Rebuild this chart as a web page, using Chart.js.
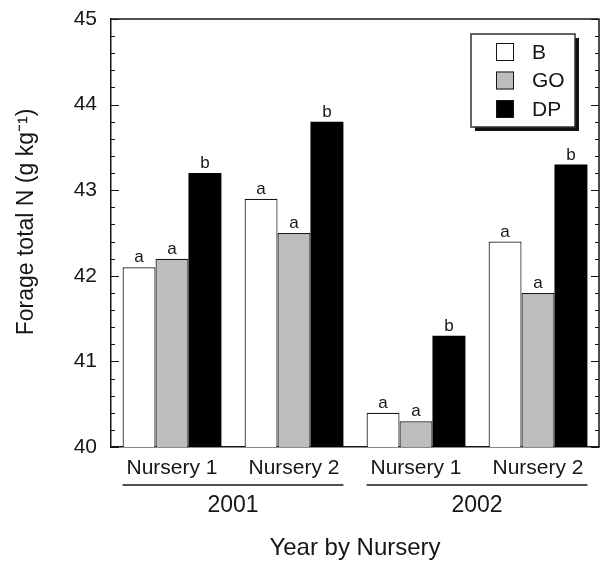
<!DOCTYPE html>
<html>
<head>
<meta charset="utf-8">
<script src="https://cdn.jsdelivr.net/npm/chart.js@4"></script>
<style>
    html, body { margin: 0; padding: 0; background: #fff; }
    #wrap { width: 600px; height: 563px; }
</style>
</head>
<body>
<div id="wrap"><canvas id="chart" width="600" height="563"></canvas></div>
<script>
const nurseries = ['Nursery 1', 'Nursery 2', 'Nursery 1', 'Nursery 2'];
const years = ['2001', '2002'];
const seriesNames = ['B', 'GO', 'DP'];

const bValues = [42.1, 42.9, 40.4, 42.4];
const goValues = [42.2, 42.5, 40.3, 41.8];
const dpValues = [43.2, 43.8, 41.3, 43.3];

const bLetters = ['a', 'a', 'a', 'a'];
const goLetters = ['a', 'a', 'a', 'a'];
const dpLetters = ['b', 'b', 'b', 'b'];

const yTicks = [40, 41, 42, 43, 44, 45];
const yTitle = 'Forage total N (g kg\u207B\u00B9)';

const FONT = "'Liberation Sans', Arial, Helvetica, sans-serif";
const INK = '#161616';
const GREY = '#bdbdbd';

const letters = [bLetters, goLetters, dpLetters];
const fills = ['#ffffff', GREY, '#000000'];

// extra drawing: frame, inward ticks, letters, year brackets, legend, y title
const decorPlugin = {
    id: 'decor',
    afterDraw(chart) {
        const ctx = chart.ctx;
        const area = chart.chartArea;
        const y = chart.scales.y;

        ctx.save();
        ctx.strokeStyle = INK;
        ctx.lineWidth = 1.5;

        // top and right frame
        ctx.beginPath();
        ctx.moveTo(area.left, area.top);
        ctx.lineTo(area.right, area.top);
        ctx.lineTo(area.right, area.bottom);
        ctx.stroke();

        // inward ticks on both sides, minor every 0.2
        ctx.lineWidth = 1;
        for (let k = 0; k <= 25; k++) {
            const v = yTicks[0] + k * 0.2;
            const py = Math.round(y.getPixelForValue(v)) + 0.5;
            const len = (k % 5 === 0) ? 8 : 4;
            ctx.beginPath();
            ctx.moveTo(area.left, py);
            ctx.lineTo(area.left + len, py);
            ctx.moveTo(area.right, py);
            ctx.lineTo(area.right - len, py);
            ctx.stroke();
        }

        // letters above bars
        ctx.fillStyle = INK;
        ctx.font = '17px ' + FONT;
        ctx.textAlign = 'center';
        ctx.textBaseline = 'alphabetic';
        for (let i = 0; i < 3; i++) {
            const meta = chart.getDatasetMeta(i);
            meta.data.forEach((bar, j) => {
                ctx.fillText(letters[i][j], bar.x, bar.y - 5);
            });
        }

        // year brackets under the nursery labels
        const first = chart.getDatasetMeta(0).data;
        const last = chart.getDatasetMeta(2).data;
        ctx.lineWidth = 1.5;
        ctx.font = '23px ' + FONT;
        ctx.textBaseline = 'middle';
        years.forEach((yr, g) => {
            const a = first[g * 2];
            const b = last[g * 2 + 1];
            const x0 = a.x - a.width / 2;
            const x1 = b.x + b.width / 2;
            ctx.beginPath();
            ctx.moveTo(x0, 485);
            ctx.lineTo(x1, 485);
            ctx.stroke();
            ctx.fillText(yr, (x0 + x1) / 2, 506);
        });

        // y axis title
        ctx.save();
        ctx.translate(27, 222);
        ctx.rotate(-Math.PI / 2);
        ctx.font = '23px ' + FONT;
        ctx.textAlign = 'center';
        ctx.textBaseline = 'middle';
        ctx.fillText(yTitle, 0, 0);
        ctx.restore();

        // legend with drop shadow
        const lx = 471, ly = 34, lw = 104, lh = 93;
        ctx.fillStyle = '#111';
        ctx.fillRect(lx + 4, ly + 4, lw, lh);
        ctx.fillStyle = '#fff';
        ctx.fillRect(lx, ly, lw, lh);
        ctx.strokeStyle = '#333';
        ctx.lineWidth = 1.5;
        ctx.strokeRect(lx, ly, lw, lh);

        ctx.font = '21px ' + FONT;
        ctx.textAlign = 'left';
        ctx.textBaseline = 'middle';
        seriesNames.forEach((name, i) => {
            const cy = 52 + i * 28.5;
            ctx.fillStyle = fills[i];
            ctx.fillRect(496, cy - 9, 18, 18);
            ctx.strokeStyle = INK;
            ctx.lineWidth = 1;
            ctx.strokeRect(496.5, cy - 8.5, 17, 17);
            ctx.fillStyle = INK;
            ctx.fillText(name, 532, cy + 1);
        });

        ctx.restore();
    }
};

const datasetValues = [bValues, goValues, dpValues];

const datasets = seriesNames.map((name, i) => ({
    label: name,
    data: datasetValues[i],
    backgroundColor: fills[i],
    borderColor: INK,
    borderWidth: i === 2 ? 0 : 1.2,
    borderSkipped: 'bottom',
    categoryPercentage: 0.81,
    barPercentage: 1.0
}));

new Chart(document.getElementById('chart').getContext('2d'), {
    type: 'bar',
    data: {
        labels: nurseries,
        datasets: datasets
    },
    options: {
        responsive: false,
        animation: false,
        layout: {
            padding: { top: 0, right: 1, left: 0, bottom: 0 }
        },
        plugins: {
            legend: { display: false },
            tooltip: { enabled: false }
        },
        scales: {
            x: {
                grid: { display: false, drawTicks: false },
                border: { display: true, color: INK, width: 1.5 },
                ticks: {
                    color: INK,
                    padding: 9,
                    font: { family: FONT, size: 21 }
                },
                title: {
                    display: true,
                    text: 'Year by Nursery',
                    color: INK,
                    padding: { top: 0, bottom: 0 },
                    font: { family: FONT, size: 24 }
                },
                afterFit(scale) { scale.height = 116; }
            },
            y: {
                min: 40,
                max: 45,
                grid: { display: false, drawTicks: false },
                border: { display: true, color: INK, width: 1.5 },
                ticks: {
                    stepSize: 1,
                    color: INK,
                    padding: 14,
                    font: { family: FONT, size: 21 }
                },
                afterFit(scale) {
                    scale.width = 111;
                    scale.paddingTop = 19;
                    scale.paddingBottom = 0;
                }
            }
        }
    },
    plugins: [decorPlugin]
});
</script>
</body>
</html>
